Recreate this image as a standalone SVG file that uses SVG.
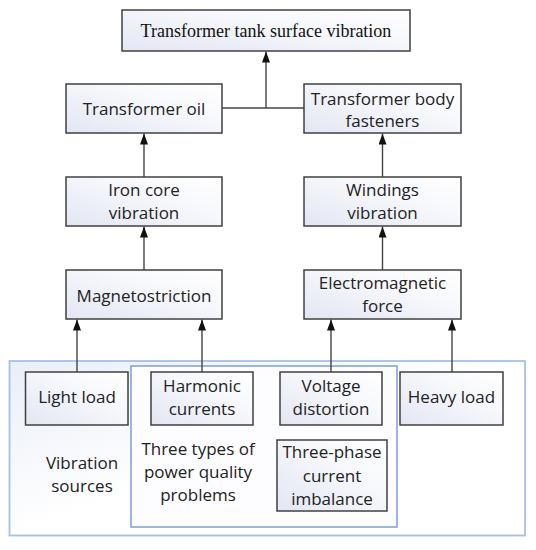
<svg xmlns="http://www.w3.org/2000/svg" width="536" height="550" viewBox="0 0 536 550">
<defs>
<linearGradient id="bg" x1="0" y1="1" x2="1" y2="0">
<stop offset="0" stop-color="#e3e6f3"/>
<stop offset="0.6" stop-color="#f7f8fc"/>
<stop offset="1" stop-color="#ffffff"/>
</linearGradient>
<linearGradient id="outerg" x1="0" y1="0" x2="1" y2="1">
<stop offset="0" stop-color="#e9eef8"/>
<stop offset="0.5" stop-color="#ffffff"/>
<stop offset="1" stop-color="#ffffff"/>
</linearGradient>
<marker id="ah" markerWidth="11" markerHeight="8" refX="11" refY="4" orient="auto-start-reverse" markerUnits="userSpaceOnUse" viewBox="0 0 11 8">
<path d="M0,0 L11,4 L0,8 z" fill="#111"/>
</marker>
<style>
.box{fill:url(#bg);stroke:#404040;stroke-width:1.5}
.t{font-family:"Open Sans","Liberation Sans",sans-serif;font-size:17px;fill:#222;text-anchor:middle}
.title{font-family:"Liberation Serif","Times New Roman",serif;font-size:18px;fill:#111;text-anchor:middle}
.c{fill:none;stroke:#444;stroke-width:1.4}
.up{marker-start:url(#ah)}
</style>
</defs>
<g id="containers">
<rect id="vibration-sources-area" x="9.5" y="361" width="515.5" height="174.5" fill="url(#outerg)" stroke="#a6c0e6" stroke-width="1.8"/>
<rect id="power-quality-area" x="131" y="366" width="266" height="161" fill="#fdfdff" stroke="#7c9fd6" stroke-width="1.5"/>
</g>
<g id="connectors">
<path class="c" d="M222,108 H304"/>
<path class="c up" d="M266,51.5 V108"/>
<path class="c up" d="M144,133.5 V177"/>
<path class="c up" d="M144,226.5 V270"/>
<path class="c up" d="M382.5,133.5 V177"/>
<path class="c up" d="M382.5,226.5 V270"/>
<path class="c up" d="M77,319.5 V372"/>
<path class="c up" d="M202,319.5 V372"/>
<path class="c up" d="M331,319.5 V372"/>
<path class="c up" d="M452,319.5 V372"/>
</g>
<g id="tank-surface">
<rect class="box" x="122" y="10" width="288" height="41"/>
<text class="title" x="266" y="37">Transformer tank surface vibration</text>
</g>
<g id="transformer-oil">
<rect class="box" x="66" y="84" width="156" height="49"/>
<text class="t" x="144" y="115">Transformer oil</text>
</g>
<g id="body-fasteners">
<rect class="box" x="304" y="84" width="157" height="49"/>
<text class="t" x="382.5" y="105">Transformer body</text>
<text class="t" x="382.5" y="127">fasteners</text>
</g>
<g id="iron-core">
<rect class="box" x="66" y="177" width="156" height="49"/>
<text class="t" x="144" y="196">Iron core</text>
<text class="t" x="144" y="219">vibration</text>
</g>
<g id="windings">
<rect class="box" x="304" y="177" width="157" height="49"/>
<text class="t" x="382.5" y="196">Windings</text>
<text class="t" x="382.5" y="219">vibration</text>
</g>
<g id="magnetostriction">
<rect class="box" x="66" y="270" width="156" height="49"/>
<text class="t" x="144" y="302">Magnetostriction</text>
</g>
<g id="electromagnetic-force">
<rect class="box" x="304" y="270" width="157" height="49"/>
<text class="t" x="382.5" y="289">Electromagnetic</text>
<text class="t" x="382.5" y="312">force</text>
</g>
<g id="light-load">
<rect class="box" x="25.5" y="372" width="102.5" height="53"/>
<text class="t" x="77" y="403">Light load</text>
</g>
<g id="harmonic-currents">
<rect class="box" x="151" y="372" width="102" height="53"/>
<text class="t" x="202" y="392">Harmonic</text>
<text class="t" x="202" y="415">currents</text>
</g>
<g id="voltage-distortion">
<rect class="box" x="280" y="372" width="102" height="53"/>
<text class="t" x="331" y="392">Voltage</text>
<text class="t" x="331" y="415">distortion</text>
</g>
<g id="heavy-load">
<rect class="box" x="400" y="372" width="103" height="53"/>
<text class="t" x="451.5" y="403">Heavy load</text>
</g>
<g id="three-phase">
<rect class="box" x="277" y="440" width="110" height="71"/>
<text class="t" x="332" y="458">Three-phase</text>
<text class="t" x="332" y="482">current</text>
<text class="t" x="332" y="505">imbalance</text>
</g>
<g id="vibration-sources-label">
<text class="t" x="82" y="469">Vibration</text>
<text class="t" x="82" y="492">sources</text>
</g>
<g id="power-quality-label">
<text class="t" x="198" y="455">Three types of</text>
<text class="t" x="198" y="478">power quality</text>
<text class="t" x="198" y="501">problems</text>
</g>
</svg>
